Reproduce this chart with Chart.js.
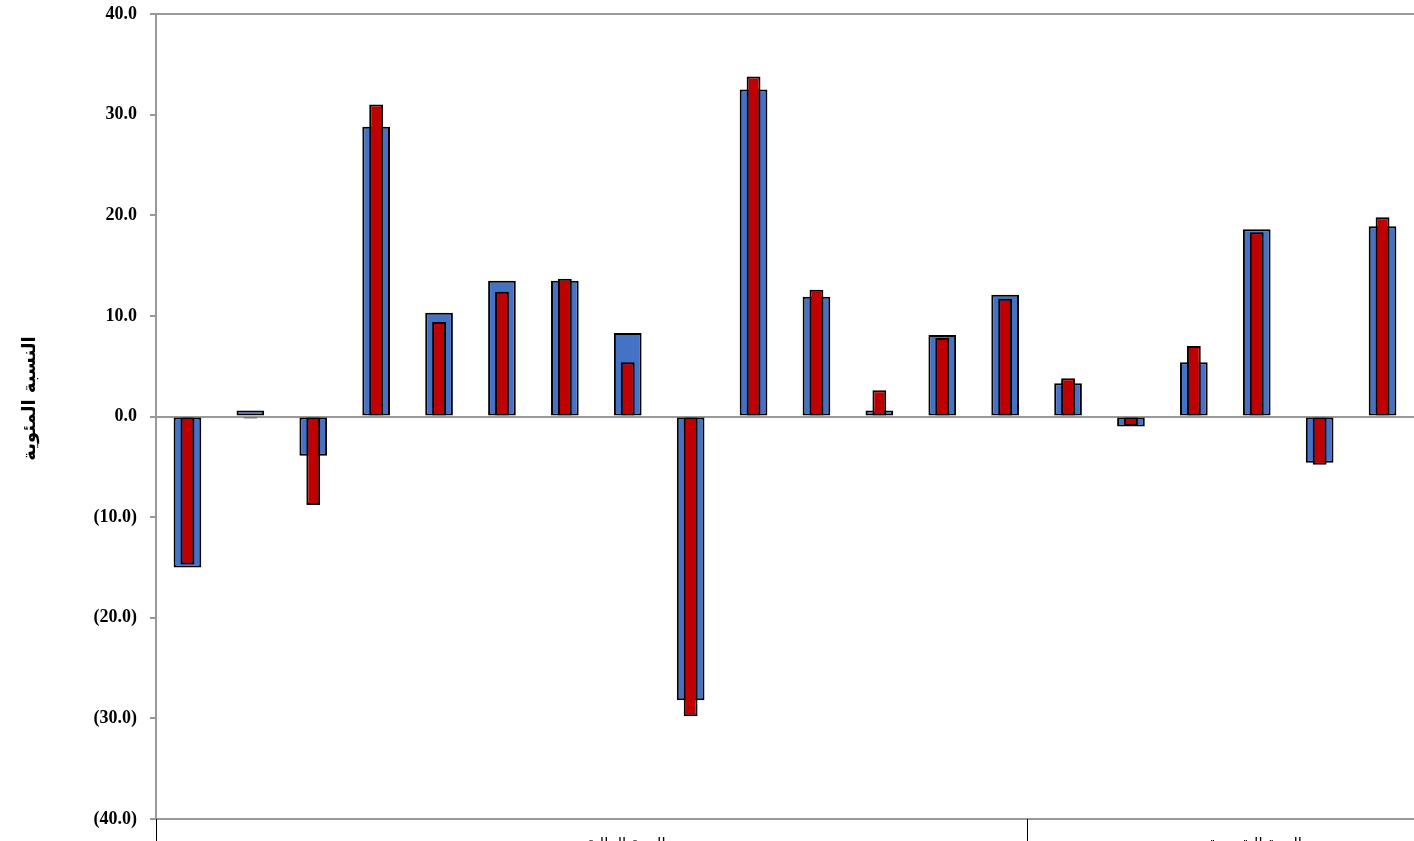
<!DOCTYPE html>
<html>
<head>
<meta charset="utf-8">
<script src="https://cdn.jsdelivr.net/npm/chart.js@4.4.0/dist/chart.umd.min.js"></script>
<style>
html,body{margin:0;padding:0;background:#fff;}
#wrap{width:1414px;height:841px;position:relative;}
</style>
</head>
<body>
<div id="wrap"><canvas id="c" width="1414" height="841"></canvas></div>
<script>
const categories = ["1","2","3","4","5","6","7","8","9","10","11","12","13","14","15","16","17","18","19","20"];
const seriesBlue = [-15.0, 0.6, -3.9, 28.8, 10.3, 13.5, 13.5, 8.3, -28.2, 32.5, 11.9, 0.6, 8.1, 12.1, 3.3, -1.0, 5.4, 18.6, -4.6, 18.9];
const seriesRed  = [-14.7, -0.2, -8.8, 31.0, 9.4, 12.4, 13.7, 5.4, -29.8, 33.8, 12.6, 2.6, 7.8, 11.7, 3.8, -0.9, 7.0, 18.3, -4.8, 19.8];
const yTicks = [-40, -30, -20, -10, 0, 10, 20, 30, 40];
const groups = [
  {label: "السنة المالية", from: 0, to: 13},
  {label: "السنة التقويمية", from: 14, to: 19}
];
const yTitle = "النسبة المئوية";

const fmt = v => v < 0 ? "(" + Math.abs(v).toFixed(1) + ")" : v.toFixed(1);

const groupPlugin = {
  id: 'groups',
  afterDraw(chart) {
    const {ctx, chartArea, scales} = chart;
    const x = scales.x;
    const bottom = chartArea.bottom;
    ctx.save();
    ctx.strokeStyle = '#999';
    ctx.lineWidth = 2;
    ctx.beginPath();
    ctx.moveTo(chartArea.left - 6, chartArea.top);
    ctx.lineTo(chartArea.right, chartArea.top);
    ctx.stroke();
    ctx.strokeStyle = '#000';
    ctx.lineWidth = 1;
    const half = (x.getPixelForValue(1) - x.getPixelForValue(0)) / 2;
    const edges = [chartArea.left, x.getPixelForValue(groups[0].to) + half * 0.7];
    edges.forEach(ex => {
      const px = Math.round(ex) + 0.5;
      ctx.beginPath();
      ctx.moveTo(px, bottom);
      ctx.lineTo(px, chart.height);
      ctx.stroke();
    });
    ctx.fillStyle = '#000';
    ctx.font = '15px "DejaVu Sans"';
    ctx.textAlign = 'center';
    ctx.textBaseline = 'alphabetic';
    groups.forEach(g => {
      const l = x.getPixelForValue(g.from) - half;
      const r = x.getPixelForValue(g.to) + half;
      ctx.fillText(g.label, (l + r) / 2 + 30, bottom + 29);
    });
    // y axis title
    ctx.save();
    ctx.translate(30, (chartArea.top + chartArea.bottom) / 2 - 18);
    ctx.rotate(-Math.PI / 2);
    ctx.font = 'bold 18px "DejaVu Sans"';
    ctx.textAlign = 'center';
    ctx.textBaseline = 'middle';
    ctx.fillText(yTitle, 0, 0);
    ctx.restore();
    ctx.restore();
  }
};

new Chart(document.getElementById('c'), {
  type: 'bar',
  data: {
    labels: categories,
    datasets: [
      {
        label: 'A',
        data: seriesBlue,
        backgroundColor: '#4472C4',
        borderColor: '#000',
        borderWidth: 2,
        borderSkipped: false,
        grouped: false,
        barPercentage: 0.44,
        categoryPercentage: 1,
        order: 2
      },
      {
        label: 'B',
        data: seriesRed,
        backgroundColor: '#C00000',
        borderColor: '#000',
        borderWidth: 2,
        borderSkipped: false,
        grouped: false,
        barPercentage: 0.22,
        categoryPercentage: 1,
        order: 1
      }
    ]
  },
  options: {
    responsive: false,
    animation: false,
    layout: {padding: {top: 14, right: 0, bottom: 22, left: 0}},
    plugins: {legend: {display: false}, tooltip: {enabled: false}},
    scales: {
      x: {
        type: 'category',
        ticks: {display: false},
        grid: {display: true, color: 'rgba(0,0,0,0)', drawTicks: false},
        border: {display: true, color: '#999', width: 2}
      },
      y: {
        min: -40, max: 40,
        z: 1,
        afterBuildTicks(scale) { scale.ticks = yTicks.map(v => ({value: v})); },
        afterFit(scale) { scale.width = 156; scale.paddingTop = 0; scale.paddingBottom = 0; },
        ticks: {
          callback: v => fmt(v),
          color: '#000',
          padding: 13,
          font: {family: '"Liberation Serif"', size: 18, weight: 'bold'}
        },
        grid: {
          drawOnChartArea: true,
          color: c => (c.tick && c.tick.value === 0) ? '#999' : 'rgba(0,0,0,0)',
          lineWidth: 2,
          tickColor: '#999',
          tickLength: 6,
          tickWidth: 2
        },
        border: {display: true, color: '#999', width: 2},
        title: {display: false}
      }
    }
  },
  plugins: [groupPlugin]
});
</script>
</body>
</html>
